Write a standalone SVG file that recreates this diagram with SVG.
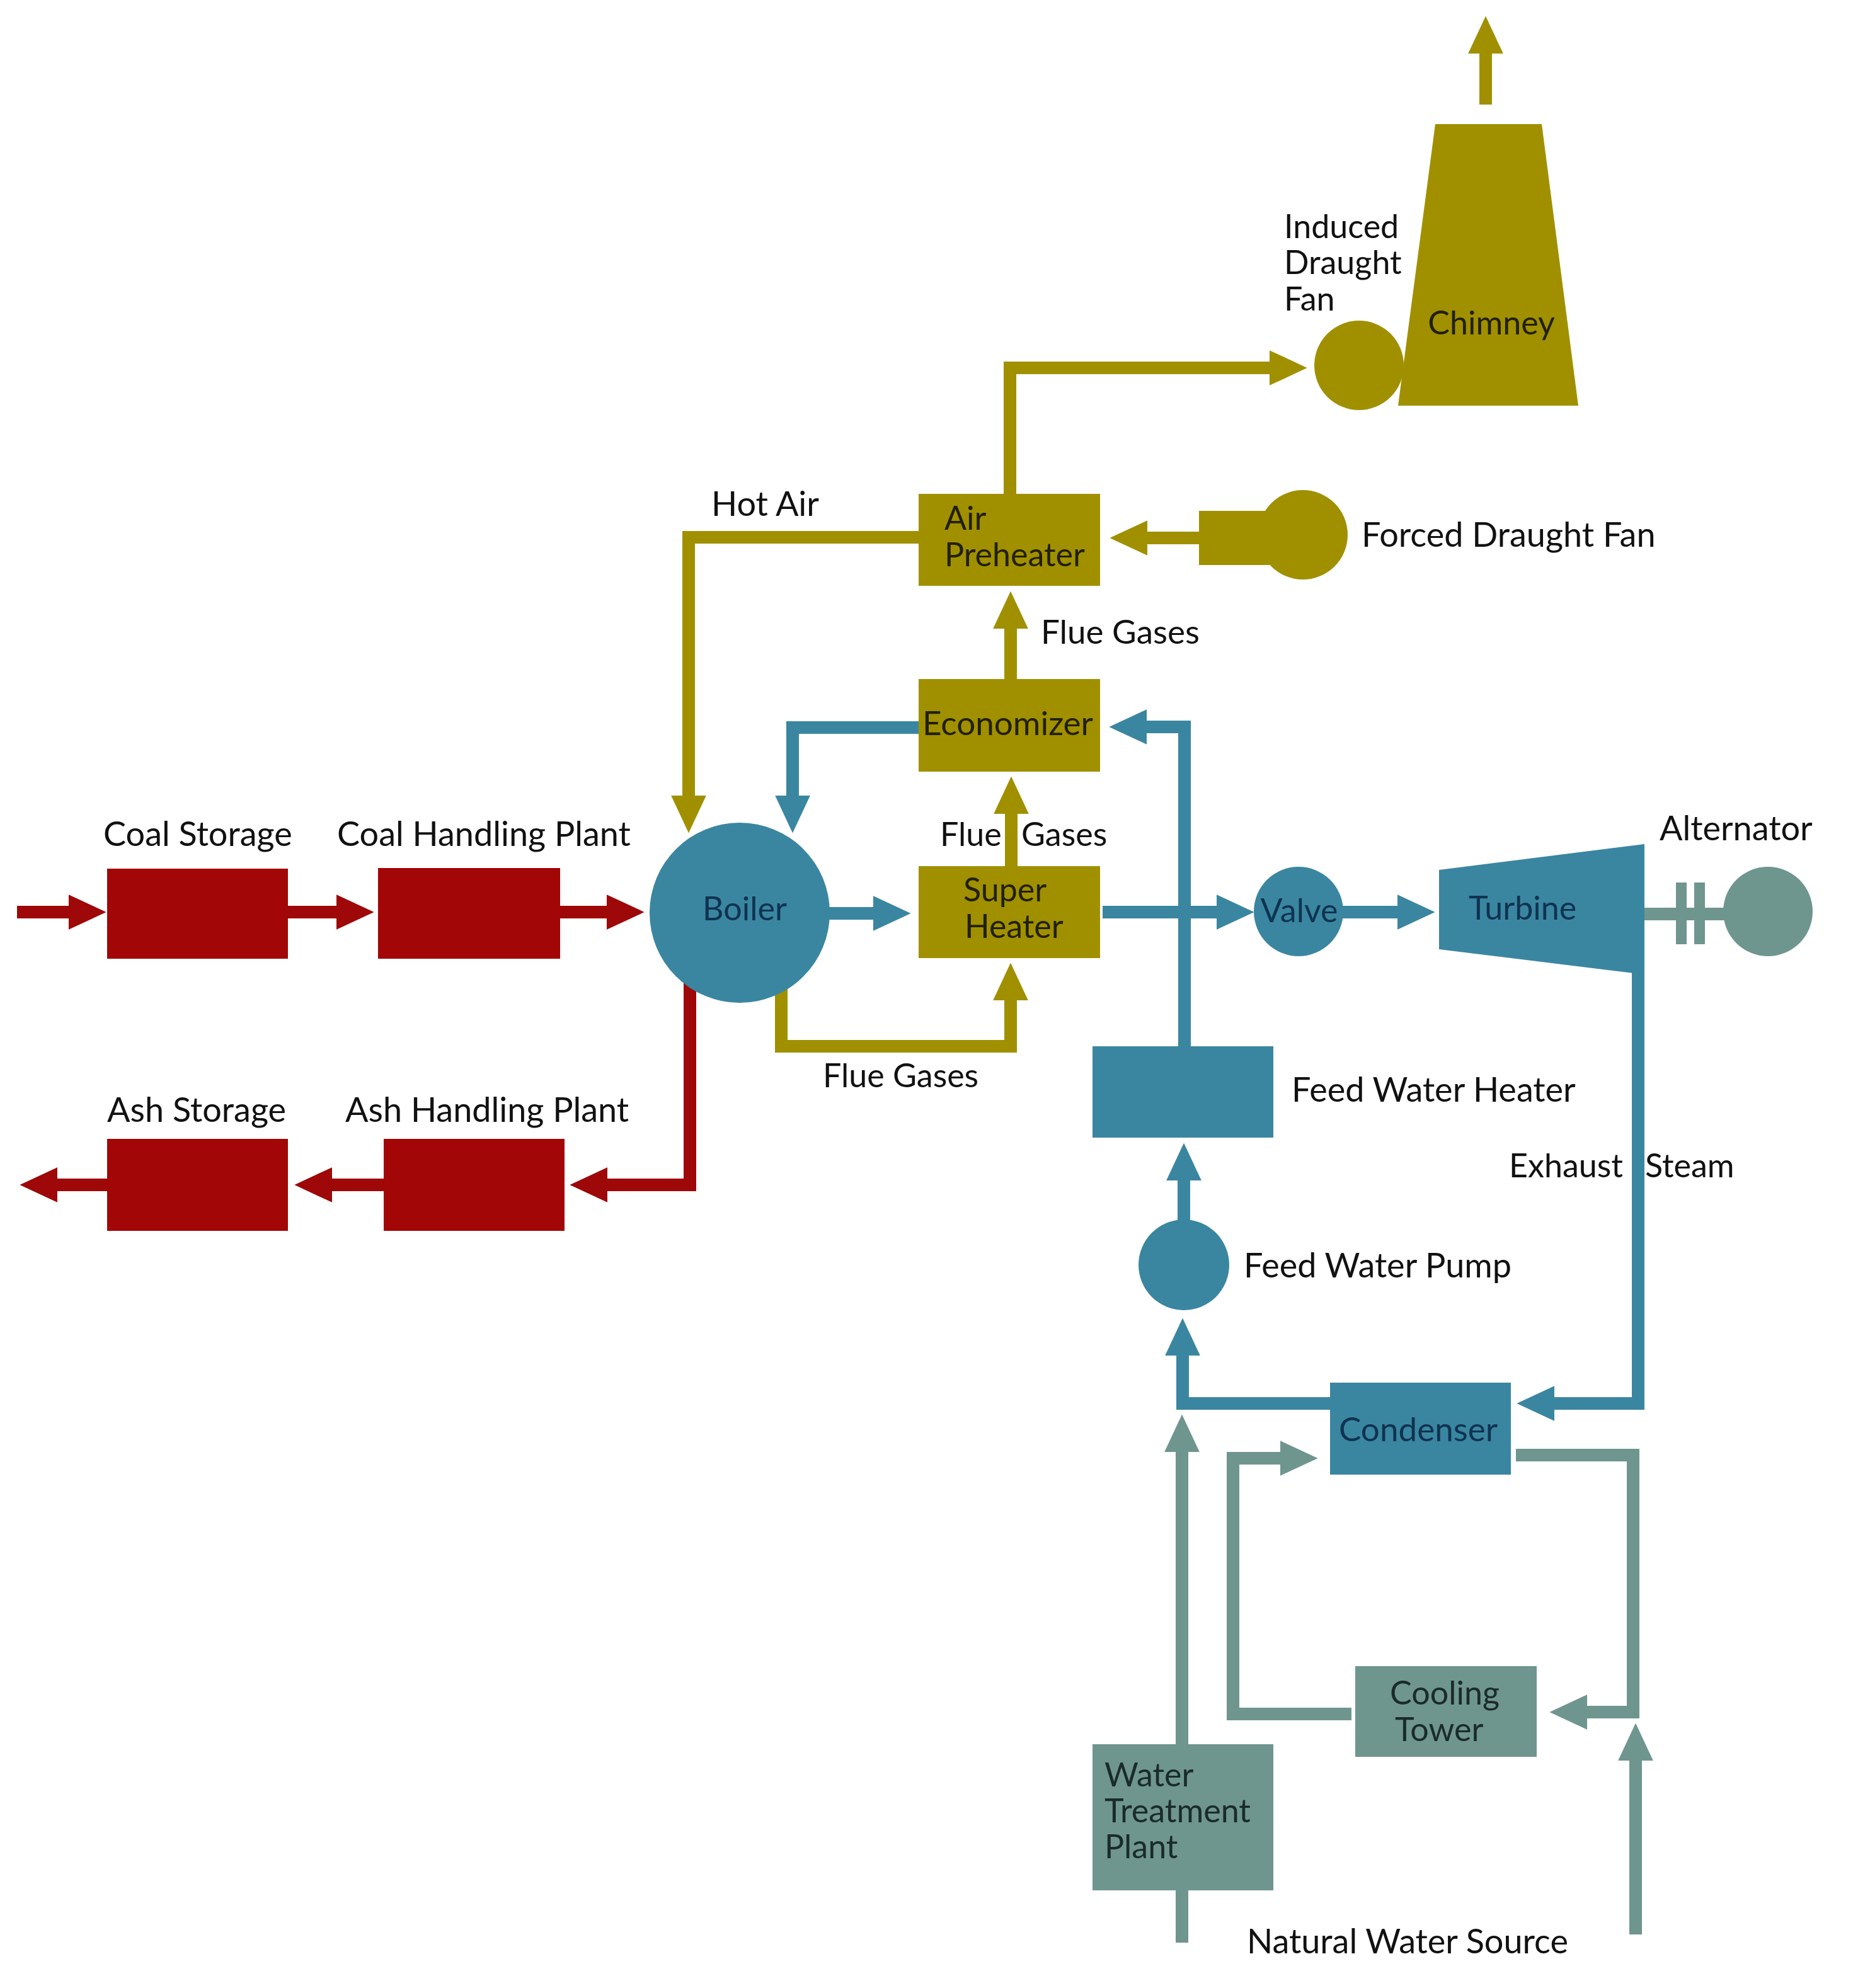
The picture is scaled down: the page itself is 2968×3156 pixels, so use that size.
<svg xmlns="http://www.w3.org/2000/svg" width="2968" height="3156" viewBox="0 0 2968 3156">
<style>
text{font-family:Lato,"Open Sans","Liberation Sans",sans-serif;font-size:54px;fill:#111}
.s52{font-size:52px}
.nt{fill:#222000;font-size:52px}
.bt{fill:#0f3350;font-size:52px}
.gt{fill:#1a2b2b;font-size:52px}
.red{fill:#a20606}
.yel{fill:#a09000}
.blu{fill:#3a86a0}
.gry{fill:#6f958f}
.c path{fill:none;stroke-width:20;stroke-linejoin:miter}
.lr{stroke:#9e0808}
.ly{stroke:#a09000}
.lb{stroke:#3a86a0}
.lg{stroke:#6f958f}
</style>
<defs>
<marker id="ar" markerUnits="strokeWidth" markerWidth="3" markerHeight="2.8" refX="0.02" refY="1.4" orient="auto"><path d="M0,0 L3,1.4 L0,2.8 z" fill="#9e0808"/></marker>
<marker id="ay" markerUnits="strokeWidth" markerWidth="3" markerHeight="2.8" refX="0.02" refY="1.4" orient="auto"><path d="M0,0 L3,1.4 L0,2.8 z" fill="#a09000"/></marker>
<marker id="ab" markerUnits="strokeWidth" markerWidth="3" markerHeight="2.8" refX="0.02" refY="1.4" orient="auto"><path d="M0,0 L3,1.4 L0,2.8 z" fill="#3a86a0"/></marker>
<marker id="ag" markerUnits="strokeWidth" markerWidth="3" markerHeight="2.8" refX="0.02" refY="1.4" orient="auto"><path d="M0,0 L3,1.4 L0,2.8 z" fill="#6f958f"/></marker>
</defs>
<rect width="2968" height="3156" fill="#fff"/>

<g id="connectors" class="c">
<path class="lr" d="M27,1448 H109" marker-end="url(#ar)"/>
<path class="lr" d="M457,1448 H534" marker-end="url(#ar)"/>
<path class="lr" d="M889,1448 H963" marker-end="url(#ar)"/>
<path class="lr" d="M1095,1556 V1881 H964" marker-end="url(#ar)"/>
<path class="lr" d="M609,1881 H527" marker-end="url(#ar)"/>
<path class="lr" d="M170,1881 H91" marker-end="url(#ar)"/>

<path class="ly" d="M1460,853 H1093 V1263" marker-end="url(#ay)"/>
<path class="ly" d="M1604,1080 V998" marker-end="url(#ay)"/>
<path class="ly" d="M1603,786 V584 H2015" marker-end="url(#ay)"/>
<path class="ly" d="M1605,1377 V1292" marker-end="url(#ay)"/>
<path class="ly" d="M1240,1560 V1661 H1604 V1588" marker-end="url(#ay)"/>
<path class="ly" d="M2358,166 V85" marker-end="url(#ay)"/>
<path class="ly" d="M1905,854 H1821" marker-end="url(#ay)"/>

<path class="lb" d="M1460,1155 H1258 V1263" marker-end="url(#ab)"/>
<path class="lb" d="M1880,1662 V1154 H1820" marker-end="url(#ab)"/>
<path class="lb" d="M1310,1450 H1386" marker-end="url(#ab)"/>
<path class="lb" d="M1750,1448 H1931" marker-end="url(#ab)"/>
<path class="lb" d="M2125,1448 H2218" marker-end="url(#ab)"/>
<path class="lb" d="M2600,1530 V2228 H2467" marker-end="url(#ab)"/>
<path class="lb" d="M1879,1940 V1874" marker-end="url(#ab)"/>
<path class="lb" d="M2113,2228 H1877 V2152" marker-end="url(#ab)"/>

<path class="lg" d="M1876,2771 V2305" marker-end="url(#ag)"/>
<path class="lg" d="M1876,2999 V3084"/>
<path class="lg" d="M2406,2310 H2592 V2718 H2519" marker-end="url(#ag)"/>
<path class="lg" d="M2145,2721 H1957 V2315 H2032" marker-end="url(#ag)"/>
<path class="lg" d="M2596,3071 V2795" marker-end="url(#ag)"/>
<path class="lg" d="M2605,1451 H2740"/>
</g>

<g id="coal-storage"><rect class="red" x="170" y="1379" width="287" height="143"/><text x="164" y="1343">Coal Storage</text></g>
<g id="coal-handling-plant"><rect class="red" x="600" y="1378" width="289" height="144"/><text x="535" y="1343">Coal Handling Plant</text></g>
<g id="ash-storage"><rect class="red" x="170" y="1808" width="287" height="146"/><text x="170" y="1781">Ash Storage</text></g>
<g id="ash-handling-plant"><rect class="red" x="609" y="1808" width="287" height="146"/><text x="548" y="1781">Ash Handling Plant</text></g>

<g id="boiler"><circle class="blu" cx="1174" cy="1449" r="143"/><text class="bt" x="1182" y="1461" text-anchor="middle">Boiler</text></g>
<g id="super-heater"><rect class="yel" x="1458" y="1375" width="288" height="146"/><text class="nt" x="1529" y="1431">Super</text><text class="nt" x="1531" y="1489">Heater</text></g>
<g id="economizer"><rect class="yel" x="1458" y="1078" width="288" height="147"/><text class="nt" x="1464" y="1167" style="font-size:53px">Economizer</text></g>
<g id="air-preheater"><rect class="yel" x="1458" y="784" width="288" height="146"/><text class="nt" x="1499" y="841">Air</text><text class="nt" x="1499" y="899">Preheater</text></g>
<g id="forced-draught-fan"><rect class="yel" x="1903" y="811" width="112" height="86"/><circle class="yel" cx="2068" cy="849" r="71"/><text x="2161" y="868">Forced Draught Fan</text></g>
<g id="induced-draught-fan"><circle class="yel" cx="2157" cy="580" r="71"/><text class="s52" x="2038" y="378">Induced</text><text class="s52" x="2038" y="435">Draught</text><text class="s52" x="2038" y="493">Fan</text></g>
<g id="chimney"><polygon class="yel" points="2278,197 2447,197 2505,644 2219,644"/><text class="nt" x="2367" y="531" text-anchor="middle">Chimney</text></g>

<g id="valve"><circle class="blu" cx="2061" cy="1447" r="71"/><text class="bt" x="2062" y="1464" text-anchor="middle">Valve</text></g>
<g id="turbine"><polygon class="blu" points="2284,1381 2610,1340 2610,1547 2284,1507"/><text class="bt" x="2331" y="1460">Turbine</text></g>
<g id="alternator"><rect class="gry" x="2660" y="1401" width="17" height="98"/><rect class="gry" x="2689" y="1401" width="17" height="98"/><circle class="gry" cx="2806" cy="1447" r="71"/><text x="2634" y="1334">Alternator</text></g>

<g id="feed-water-heater"><rect class="blu" x="1734" y="1661" width="287" height="145"/><text x="2050" y="1749">Feed Water Heater</text></g>
<g id="feed-water-pump"><circle class="blu" cx="1879" cy="2008" r="72"/><text x="1974" y="2028">Feed Water Pump</text></g>
<g id="condenser"><rect class="blu" x="2111" y="2195" width="287" height="146"/><text class="bt" x="2125" y="2288" style="font-size:53px">Condenser</text></g>
<g id="cooling-tower"><rect class="gry" x="2151" y="2645" width="288" height="144"/><text class="gt" x="2206" y="2706">Cooling</text><text class="gt" x="2214" y="2764">Tower</text></g>
<g id="water-treatment-plant"><rect class="gry" x="1734" y="2769" width="287" height="232"/><text class="gt" x="1753" y="2836">Water</text><text class="gt" x="1753" y="2893">Treatment</text><text class="gt" x="1753" y="2950">Plant</text></g>

<g id="labels">
<text x="1129" y="819">Hot Air</text>
<text class="s52" x="1652" y="1022" style="font-size:53px">Flue Gases</text>
<text class="s52" x="1492" y="1343">Flue</text><text class="s52" x="1621" y="1343">Gases</text>
<text class="s52" x="1306" y="1726">Flue Gases</text>
<text class="s52" x="2395" y="1869">Exhaust</text><text class="s52" x="2611" y="1869">Steam</text>
<text x="1979" y="3101">Natural Water Source</text>
</g>
</svg>
